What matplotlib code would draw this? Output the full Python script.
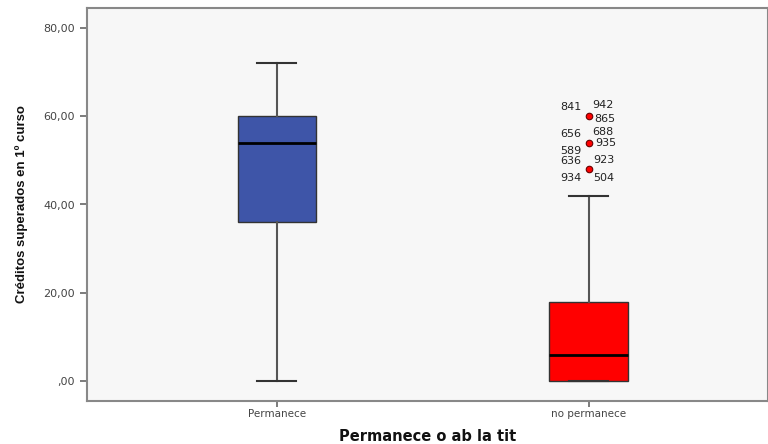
import matplotlib
matplotlib.use("Agg")
import matplotlib.pyplot as plt
from matplotlib.ticker import FuncFormatter

categories = ["Permanece", "no permanece"]
whislo = [0, 0]
q1 = [36, 0]
med = [54, 6]
q3 = [60, 18]
whishi = [72, 42]
box_colors = ["#3E55A8", "#FF0000"]

# outliers of second group
outlier_values = [60, 54, 48]
outlier_labels = [
    ["841", "942", "865"],
    ["656", "688", "935", "589"],
    ["636", "923", "934", "504"],
]
label_offsets = [
    [(-18, 9), (14, 11), (16, -2.5)],
    [(-18, 9), (14, 10.5), (16.5, -0.5), (-18.5, -8)],
    [(-18.5, 8.3), (14.5, 9.3), (-18.5, -9), (14.5, -9)],
]

fig = plt.figure(figsize=(7.68, 4.44), dpi=100)
ax = fig.add_axes([87/768, 1-401/444, 1-87/768, (401-8)/444])
ax.set_facecolor("#F7F7F7")

stats = []
for i in range(2):
    stats.append(dict(whislo=whislo[i], q1=q1[i], med=med[i], q3=q3[i],
                      whishi=whishi[i], fliers=[], label=categories[i]))

bp = ax.bxp(stats, positions=[1, 2], widths=0.253, patch_artist=True,
            showfliers=False,
            boxprops=dict(edgecolor="#333333", linewidth=1.0),
            medianprops=dict(color="black", linewidth=2),
            whiskerprops=dict(color="#555555", linewidth=1.5),
            capprops=dict(color="#333333", linewidth=1.5),
            capwidths=0.125)
for patch, c in zip(bp["boxes"], box_colors):
    patch.set_facecolor(c)

ax.scatter([2]*len(outlier_values), outlier_values, s=22, color="#FF0000",
           edgecolor="#660000", linewidth=0.8, zorder=5)
for v, labs, offs in zip(outlier_values, outlier_labels, label_offsets):
    for lab, (dx, dy) in zip(labs, offs):
        ax.annotate(lab, (2, v), xytext=(dx, dy), textcoords="offset pixels",
                    ha="center", va="center", fontsize=8, color="#222222")

ax.set_xlim(0.391, 2.574)
ax.set_ylim(-4.5, 84.5)
ax.set_yticks([0, 20, 40, 60, 80])
ax.yaxis.set_major_formatter(FuncFormatter(
    lambda v, p: ",00" if v == 0 else f"{v:.2f}".replace(".", ",")))
ax.set_xticks([1, 2])
ax.set_xticklabels(categories)
ax.tick_params(axis="both", colors="#666666", labelcolor="#444444",
               labelsize=8, length=5, width=1.2)
ax.tick_params(axis="x", length=4, labelsize=7.5, pad=2)

for s in ax.spines.values():
    s.set_color("#888888")
    s.set_linewidth(1.5)

ax.set_ylabel("Créditos superados en 1º curso",
              family=["Liberation Sans", "DejaVu Sans"],
              fontsize=9.5, fontweight="bold", color="#111111")
ax.yaxis.set_label_coords(-0.087, 0.5)
ax.set_xlabel("Permanece o ab la tit", fontsize=10.5, fontweight="bold",
              color="#111111", labelpad=7)

fig.savefig("out.png", dpi=100)
